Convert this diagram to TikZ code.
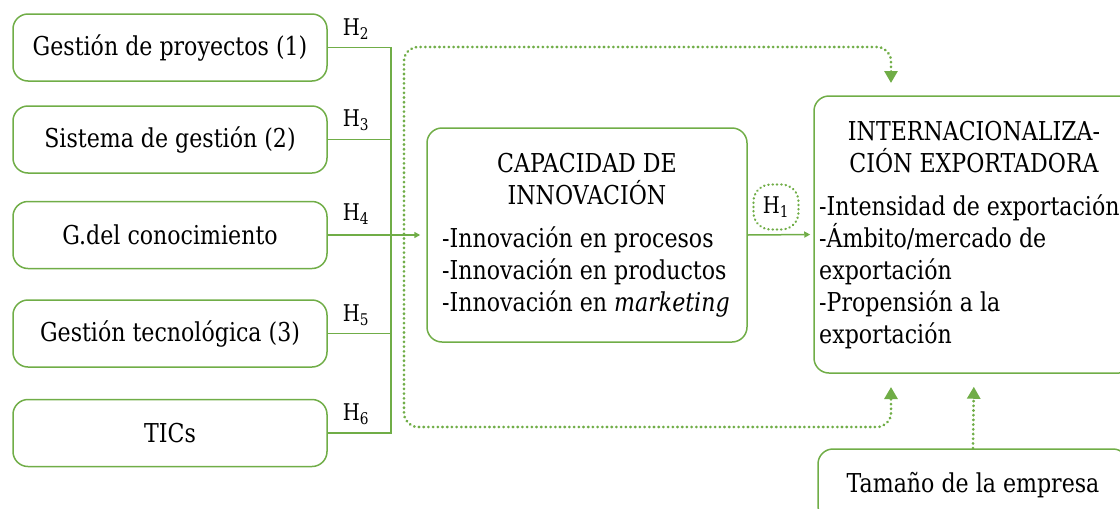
\documentclass[tikz,border=0pt]{standalone}
\usepackage{fontspec}
\setmainfont[FakeStretch=0.85]{DejaVu Serif}
\usetikzlibrary{arrows.meta}
\definecolor{gr}{HTML}{70AD47}
\newcommand{\bodyfont}{\fontsize{26}{32}\selectfont}
\tikzset{bigtip/.tip={Triangle[width=13pt,length=12pt]}}
\begin{document}
\begin{tikzpicture}[x=1pt,y=-1pt,
  box/.style={draw=gr, line width=1.5pt, rounded corners=15pt, inner sep=0pt},
  leftbox/.style={box, minimum width=314pt, minimum height=67pt, font=\bodyfont},
  txt/.style={inner sep=0pt, font=\bodyfont},
  hlbl/.style={inner sep=0pt, font=\fontsize{23}{25}\selectfont},
  conn/.style={draw=gr, line width=1.5pt},
  smallarrow/.style={conn, -{Triangle[width=6pt,length=6pt]}},
  dotline/.style={draw=gr, line width=2.8pt, line cap=round, dash pattern=on 0.3pt off 4.4pt}
]
\useasboundingbox (0,0) rectangle (1120,509);
\clip (0,0) rectangle (1120,509);

% left boxes
\node[leftbox] (g1) at (170,47.5) {Gestión de proyectos (1)};
\node[leftbox] (g2) at (170,139.5) {Sistema de gestión (2)};
\node[leftbox] (g3) at (170,235) {G.del conocimiento};
\node[leftbox] (g4) at (170,333.5) {Gestión tecnológica (3)};
\node[leftbox] (g5) at (170,433) {TICs};

% centre box
\node[box, minimum width=320pt, minimum height=214pt] (cap) at (587,235) {};
\node[txt, align=center] (capt) at (587,179) {CAPACIDAD DE\\INNOVACIÓN};
\node[txt, align=left, anchor=west] (capi) at (442,272) {-Innovación en procesos\\-Innovación en productos\\-Innovación en \textit{marketing}};

% right box
\node[box, minimum width=320pt, minimum height=277pt] (intl) at (974,234.5) {};
\node[txt, align=center] (intlt) at (974,147) {INTERNACIONALIZA-\\CIÓN EXPORTADORA};
\node[txt, align=left, anchor=west] (intli) at (819,272) {-Intensidad de exportación\\-Ámbito/mercado de\\exportación\\-Propensión a la\\exportación};

% bottom box
\node[box, minimum width=310pt, minimum height=72pt, font=\bodyfont] (tam) at (973,485) {Tamaño de la empresa};

% H1
\node[draw=gr, line width=2.4pt, line cap=round, dash pattern=on 0.3pt off 4pt, rounded corners=17pt, minimum width=45pt, minimum height=45pt, inner sep=0pt, font=\fontsize{23}{25}\selectfont] (h1) at (776,207) {H\textsubscript{1}};

% junction
\coordinate (jb) at (391,433);
\draw[conn] (g1.east) -| (jb) -- (g5.east);
\draw[conn] (g2.east) -- (g2.east -| jb);
\draw[conn] (g4.east) -- (g4.east -| jb);
\draw[smallarrow, shorten >=6pt] (g3.east) -- (cap.west);
\draw[smallarrow, shorten >=3pt] (cap.east) -- (intl.west);

% H labels
\node[hlbl] (h2) at (356,29) {H\textsubscript{2}};
\node[hlbl] (h3) at (356,120) {H\textsubscript{3}};
\node[hlbl] (h4) at (356,214) {H\textsubscript{4}};
\node[hlbl] (h5) at (356,315) {H\textsubscript{5}};
\node[hlbl] (h6) at (356,414) {H\textsubscript{6}};

% dotted loop
\coordinate (ta) at (891,83);
\coordinate (tb) at (891,387);
\draw[dotline, rounded corners=14pt, bigtip-bigtip] (ta) -- (891,47) -- (404,47) -- (404,427) -- (891,427) -- (tb);

% size arrow
\draw[dotline, -bigtip, shorten >=13pt] (tam.north) -- (intl.south);
\end{tikzpicture}
\end{document}
